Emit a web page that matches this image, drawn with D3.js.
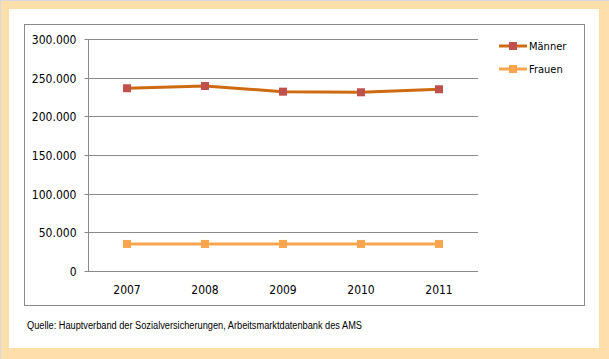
<!DOCTYPE html>
<html><head><meta charset="utf-8">
<script src="https://cdn.jsdelivr.net/npm/d3@7"></script>
<style>html,body{margin:0;padding:0;background:#fff;}svg{display:block;}</style>
</head><body>
<script>
const years = ["2007","2008","2009","2010","2011"];
const maenner = [236300, 239200, 231900, 231100, 235000];
const frauen = [35000, 35000, 35000, 35000, 35000];
const yTicks = [0, 50000, 100000, 150000, 200000, 250000, 300000];
const seriesNames = ["Männer", "Frauen"];
const source = "Quelle: Hauptverband der Sozialversicherungen, Arbeitsmarktdatenbank des AMS";

const W = 609, H = 359;
const svg = d3.select("body").append("svg").attr("width", W).attr("height", H);

// outer frame
svg.append("rect").attr("x",0).attr("y",0).attr("width",W).attr("height",H).attr("fill","#FFDFA9");
svg.append("line").attr("x1",0).attr("x2",W).attr("y1",0.5).attr("y2",0.5).attr("stroke","#d6d9e0");
svg.append("line").attr("x1",0.5).attr("x2",0.5).attr("y1",0).attr("y2",H).attr("stroke","#d6d9e0");
svg.append("rect").attr("x",9).attr("y",9).attr("width",590).attr("height",339).attr("fill","#fff");
// chart border
svg.append("rect").attr("x",24.5).attr("y",24.5).attr("width",560).attr("height",281)
  .attr("fill","none").attr("stroke","#8a8a8a");

const x = d3.scaleBand().domain(years).range([88, 478]);
const y = d3.scaleLinear().domain([0, 300000]).range([271, 39]);
const fmt = d => d === 0 ? "0" : d3.format(",")(d).replace(/,/g, ".");
const font = "'DejaVu Sans Condensed','DejaVu Sans',sans-serif";

// gridlines
svg.append("g").selectAll("line").data(yTicks.filter(d => d > 0)).join("line")
  .attr("x1", 88).attr("x2", 478)
  .attr("y1", d => Math.round(y(d)) + 0.5).attr("y2", d => Math.round(y(d)) + 0.5)
  .attr("stroke", "#8a8a8a");

// y axis
const yAxis = svg.append("g").attr("transform","translate(88.5,0)")
  .call(d3.axisLeft(y).tickValues(yTicks).tickFormat(fmt).tickSize(4).tickPadding(8));
yAxis.select(".domain").attr("stroke","#8a8a8a").attr("d","M0," + y(300000) + "V" + (Math.round(y(0))+0.5));
yAxis.selectAll(".tick line").attr("stroke","#8a8a8a");
yAxis.selectAll(".tick").attr("transform", d => "translate(0," + (Math.round(y(d)) + 0.5) + ")");
yAxis.selectAll("text").attr("font-family", font).attr("font-size", "12px").attr("fill","#000").attr("dy","0.36em");

// x axis
const xAxis = svg.append("g").attr("transform","translate(0," + (Math.round(y(0)) + 0.5) + ")")
  .call(d3.axisBottom(x).tickSize(0).tickPadding(14));
xAxis.select(".domain").attr("stroke","#8a8a8a").attr("d","M88,0H478");
xAxis.selectAll("text").attr("font-family", font).attr("font-size", "12px").attr("fill","#000");

const cx = d => x(d) + x.bandwidth() / 2;
const line = d3.line().x(d => cx(d.year)).y(d => y(d.v));

const series = [
  {name: seriesNames[0], values: maenner, line: "#CE6A10", marker: "#C0504D"},
  {name: seriesNames[1], values: frauen, line: "#F9A54E", marker: "#F9A54E"}
];

series.forEach(s => {
  const pts = years.map((yr, i) => ({year: yr, v: s.values[i]}));
  svg.append("path").datum(pts).attr("d", line).attr("fill","none")
    .attr("stroke", s.line).attr("stroke-width", 3).attr("stroke-linejoin","round");
  svg.append("g").selectAll("rect").data(pts).join("rect")
    .attr("x", d => cx(d.year) - 4).attr("y", d => y(d.v) - 4)
    .attr("width", 8).attr("height", 8).attr("fill", s.marker);
});

// legend
const leg = svg.append("g");
series.forEach((s, i) => {
  const ly = 46 + i * 23;
  leg.append("line").attr("x1", 499).attr("x2", 527).attr("y1", ly).attr("y2", ly)
    .attr("stroke", s.line).attr("stroke-width", 3);
  leg.append("rect").attr("x", 509).attr("y", ly - 4).attr("width", 8).attr("height", 8).attr("fill", s.marker);
  leg.append("text").attr("x", 529).attr("y", ly).attr("dy", "0.36em")
    .attr("font-family", font).attr("font-size", "11px").attr("fill", "#000").text(s.name);
});

// source
svg.append("text").attr("x", 27).attr("y", 329)
  .attr("font-family","'Liberation Sans Narrow','Liberation Sans',Arial,sans-serif")
  .attr("font-size","10px").attr("fill","#000")
  .attr("textLength", 335).attr("lengthAdjust","spacingAndGlyphs")
  .text(source);
</script>
</body></html>
